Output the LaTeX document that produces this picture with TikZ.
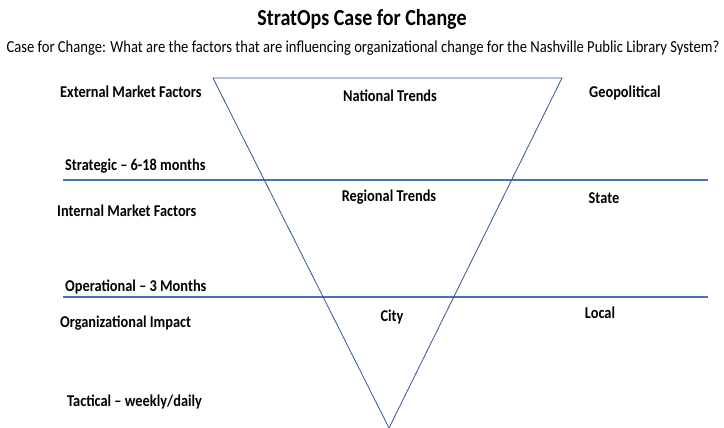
\documentclass[tikz,border=0pt]{standalone}
\usepackage{fontspec}
% slightly condensed face, set larger, so text keeps its width but gains height
\setmainfont{Carlito}[FakeStretch=0.87]
\definecolor{bandblue}{RGB}{68,114,196}
\definecolor{funnelblue}{RGB}{47,85,151}
\begin{document}
\begin{tikzpicture}[x=1pt,y=-1pt,
  lbl/.style={font=\bfseries\fontsize{16.5}{18}\selectfont, inner sep=0pt},
  band/.style={draw=bandblue, line width=2pt},
  funnel/.style={draw=funnelblue, line width=0.8pt}]
\useasboundingbox (0,0) rectangle (724,428);
% title block
\node[inner sep=0pt, font=\bfseries\fontsize{23}{26}\selectfont] (title) at (362,19) {StratOps Case for Change};
\node[inner sep=0pt, font=\fontsize{16.8}{18}\selectfont] (sub) at (363,48) {Case for Change: What are the factors that are influencing organizational change for the Nashville Public Library System?};
% time-horizon separators
\coordinate (s1l) at (63,180); \coordinate (s1r) at (708,180);
\coordinate (s2l) at (63,297); \coordinate (s2r) at (708,297);
\draw[band] (s1l) -- (s1r);
\draw[band] (s2l) -- (s2r);
% inverted funnel
\coordinate (tl) at (213,78); \coordinate (tr) at (562,78); \coordinate (apex) at (389,428);
\draw[funnel] (tl) -- (tr) -- (apex) -- cycle;
% labels
\node[lbl, anchor=west] (ext) at (60,92) {External Market Factors};
\node[lbl] (nat) at (390,96) {National Trends};
\node[lbl, anchor=west] (geo) at (589,93) {Geopolitical};
\node[lbl, anchor=west] (strat) at (65,166) {Strategic – 6-18 months};
\node[lbl] (reg) at (389,197) {Regional Trends};
\node[lbl] (state) at (604,198) {State};
\node[lbl, anchor=west] (int) at (57,211) {Internal Market Factors};
\node[lbl, anchor=west] (oper) at (65,287) {Operational – 3 Months};
\node[lbl, anchor=west] (org) at (60,323) {Organizational Impact};
\node[lbl] (city) at (392,317) {City};
\node[lbl] (local) at (600,313) {Local};
\node[lbl, anchor=west] (tact) at (67,402) {Tactical – weekly/daily};
\end{tikzpicture}
\end{document}
